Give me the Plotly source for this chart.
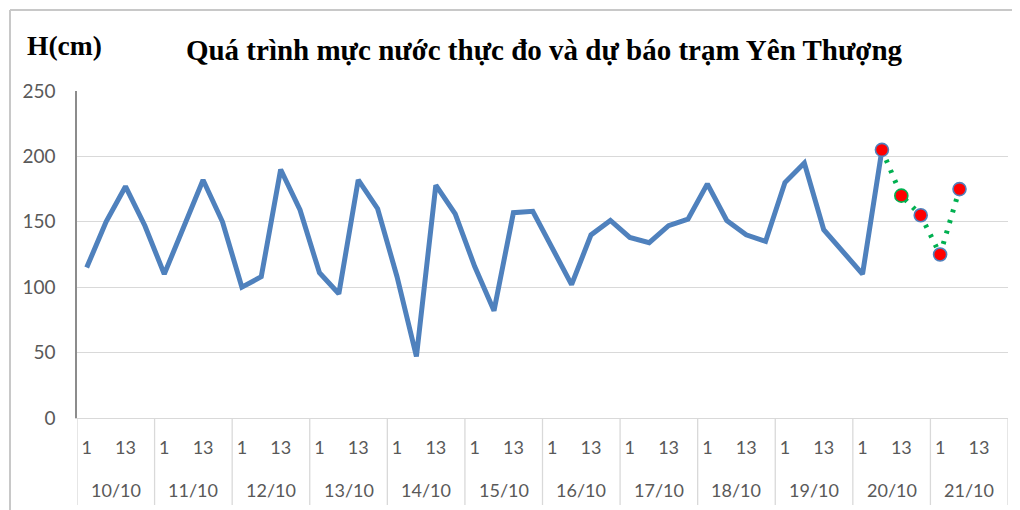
import plotly.graph_objects as go

# ---- data ----
days = ["10/10", "11/10", "12/10", "13/10", "14/10", "15/10",
        "16/10", "17/10", "18/10", "19/10", "20/10", "21/10"]
hours = [1, 7, 13, 19]
hour_labels_shown = [1, 13]

observed = [115, 150, 177, 147, 110, 147, 182, 150, 100, 108, 190, 159,
            111, 95, 182, 160, 108, 47, 178, 156, 116, 82, 157, 158,
            129, 102, 140, 151, 138, 134, 147, 152, 179, 151, 140, 135,
            180, 195, 144, 127, 110, 205]
forecast_start = len(observed) - 1
forecast = [205, 170, 155, 125, 175]

y_ticks = [0, 50, 100, 150, 200, 250]

# ---- derived category positions ----
n_cat = len(days) * len(hours)
cat_index = list(range(n_cat))
cat_hour = [hours[i % len(hours)] for i in cat_index]
obs_x = cat_index[:len(observed)]
fc_x = cat_index[forecast_start:forecast_start + len(forecast)]

# ---- figure geometry (pixels, page offset of 8px from body margin) ----
OFF = 8
W, H = 1020, 510
L = 77 - OFF
T = 91 - OFF
plot_w = 1008 - 77
plot_h = 418 - 91
R = W - L - plot_w
B = H - T - plot_h


def py(ref_y):
    return (418 - ref_y) / plot_h


def px(ref_x):
    return (ref_x - 77) / plot_w


fig = go.Figure()

fig.add_trace(go.Scatter(
    x=obs_x, y=observed, mode="lines",
    line=dict(color="#4F81BD", width=5),
    hoverinfo="skip", showlegend=False,
))

fig.add_trace(go.Scatter(
    x=fc_x, y=forecast, mode="lines",
    line=dict(color="#00B050", width=5, dash="3px,8px"),
    hoverinfo="skip", showlegend=False,
))
fig.add_trace(go.Scatter(
    x=fc_x, y=forecast, mode="markers",
    marker=dict(color="#FF0000", size=13,
                line=dict(color=["#4F81BD", "#00B050", "#4F81BD", "#4F81BD", "#4F81BD"], width=1.6)),
    hoverinfo="skip", showlegend=False,
))

tick_vals = [i for i in cat_index if cat_hour[i] in hour_labels_shown]
tick_text = [str(cat_hour[i]) for i in tick_vals]

shapes = []
# day dividers below the axis
for k in range(len(days) + 1):
    xb = k * len(hours) - 0.5
    shapes.append(dict(type="line", xref="x", yref="paper",
                       x0=xb, x1=xb, y0=0, y1=py(505),
                       line=dict(color="#D9D9D9", width=1.3)))
# chart outer border (left and top edges visible), drawn in pixel-size mode
shapes.append(dict(type="line", xref="paper", yref="paper",
                   x0=px(10), x1=px(10), y0=py(512), y1=py(10),
                   line=dict(color="#C8C8C8", width=2), layer="above"))
shapes.append(dict(type="line", xref="paper", yref="paper",
                   x0=px(10), x1=px(1020), y0=py(10), y1=py(10),
                   line=dict(color="#C8C8C8", width=2), layer="above"))

annotations = []
for k, d in enumerate(days):
    cx = k * len(hours) + (len(hours) - 1) / 2
    annotations.append(dict(x=cx, y=py(490), xref="x", yref="paper",
                            text=d, showarrow=False, xanchor="center", yanchor="middle",
                            font=dict(family="Lato", size=18, color="#595959")))
annotations.append(dict(x=px(25), y=py(45), xref="paper", yref="paper",
                        text="<b>H(cm)</b>", showarrow=False, xanchor="left", yanchor="middle",
                        font=dict(family="Liberation Serif", size=27.5, color="#000000")))

fig.update_layout(
    width=W, height=H,
    margin=dict(l=L, r=R, t=T, b=B),
    paper_bgcolor="white", plot_bgcolor="white",
    title=dict(text="<b>Quá trình mực nước thực đo và dự báo trạm Yên Thượng</b>",
               x=(544 - OFF) / W, xanchor="center", y=1 - (50 - OFF) / H, yanchor="middle",
               yref="container", xref="container",
               font=dict(family="Liberation Serif", size=29, color="#000000")),
    xaxis=dict(range=[-0.5, n_cat - 0.5], tickvals=tick_vals, ticktext=tick_text,
               showgrid=False, zeroline=False, showline=True, linecolor="#D9D9D9", linewidth=1.3,
               ticks="", ticklabelstandoff=13,
               tickfont=dict(family="Lato", size=18, color="#595959")),
    yaxis=dict(range=[0, 250], tickvals=y_ticks, showgrid=True, gridcolor="#D9D9D9", gridwidth=1.3,
               zeroline=False, showline=True, linecolor="#8C8C8C", linewidth=1.5,
               ticks="", ticklabelstandoff=16,
               tickfont=dict(family="Lato", size=19, color="#595959")),
    shapes=shapes, annotations=annotations,
)

fig.write_html("out.html")
